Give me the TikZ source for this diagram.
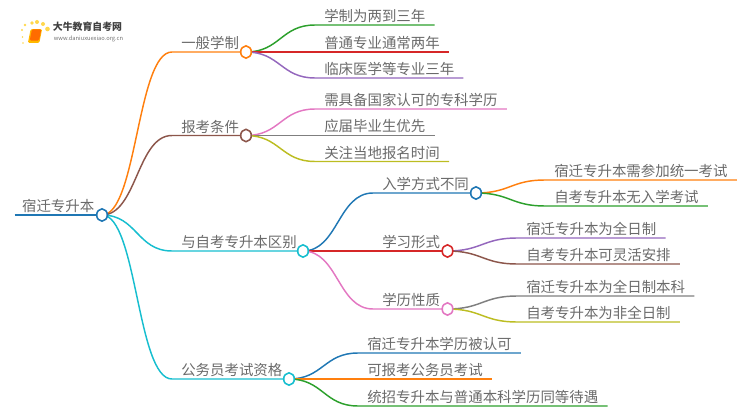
\documentclass[tikz,border=0pt]{standalone}
\usepackage{fontspec}
\setmainfont{Noto Sans CJK SC}
\usetikzlibrary{positioning, shapes.geometric, backgrounds}
\definecolor{tabblue}{HTML}{1F77B4}
\definecolor{taborange}{HTML}{FF7F0E}
\definecolor{tabgreen}{HTML}{2CA02C}
\definecolor{tabred}{HTML}{D62728}
\definecolor{tabpurple}{HTML}{9467BD}
\definecolor{tabbrown}{HTML}{8C564B}
\definecolor{tabpink}{HTML}{E377C2}
\definecolor{tabgray}{HTML}{7F7F7F}
\definecolor{tabolive}{HTML}{BCBD22}
\definecolor{tabcyan}{HTML}{17BECF}
\definecolor{txtgray}{HTML}{6A6A6A}

\begin{document}
\begin{tikzpicture}[
    x=0.75pt, y=-0.75pt,
    leaf/.style={anchor=south west, inner xsep=6.75pt, inner ysep=1.5pt, font=\fontsize{10.83pt}{12pt}\selectfont, text=txtgray},
    dot/.style={ellipse, draw, fill=white, line width=1.2pt, minimum width=8pt, minimum height=9.2pt, inner sep=0pt},
    link/.style={line width=1.1pt},
    logodot/.style={circle, fill=orange!45!yellow!70, inner sep=0pt},
]
\useasboundingbox (0,0) rectangle (750,410);

% Logo
\foreach \i/\xpos/\ypos/\size in {0/23/43/1.2pt, 1/22.5/37/1.4pt, 2/22/30/1.7pt, 3/25/25/2.2pt, 4/32/23/2.8pt, 5/37/22/3pt, 6/43/24/3pt, 7/47.5/29/3.5pt} {
    \node[logodot, minimum size=\size] (sun_\i) at (\xpos,\ypos) {};
}
\node[fill=orange!55!yellow, rounded corners=1pt, minimum width=8.6pt, minimum height=10.4pt, inner sep=0pt, xslant=0.2] (book) at (35,36) {};
\node[fill=orange!85!red, rounded corners=1pt, minimum width=7pt, minimum height=8.4pt, inner sep=0pt, xslant=0.2] (cover) at (35.5,35) {};
\node[font=\fontsize{7.4pt}{8pt}\selectfont\bfseries, text=black!75, inner sep=0pt] (logotitle) at (87.5,27) {大牛教育自考网};
\node[font=\fontsize{4.3pt}{5pt}\selectfont, text=black!55, inner sep=0pt] (logourl) at (88.5,38.5) {www.daniuxuexiao.org.cn};

% Root
\node[leaf, inner xsep=5.5pt] (root) at (14.5,215) {宿迁专升本};
\node[dot, draw=tabblue] (root_dot) at (102,215) {};
\begin{scope}[on background layer]
\draw[tabblue, line width=1.5pt] (root.south west) -- (root_dot.center);
\end{scope}

% First level
\foreach \name/\xpos/\ypos/\dotx/\col/\txt in {
    general/172/52/246/taborange/一般学制,
    apply/172/135.5/246/tabbrown/报考条件,
    differ/172/251/303/tabcyan/与自考专升本区别,
    civil/172/379/289/tabcyan/公务员考试资格} {
    \node[leaf] (\name) at (\xpos,\ypos) {\txt};
    \node[dot, draw=\col] (\name_dot) at (\dotx,\ypos) {};
    \begin{scope}[on background layer]
    \draw[link, \col] (root_dot.center) .. controls +(35,0) and +(-35,0) .. (\name.south west) -- (\name_dot.center);
    \end{scope}
}

% Second level under the differences
\foreach \name/\xpos/\ypos/\dotx/\col/\txt in {
    entry/373/193/476/tabblue/入学方式不同,
    form/373/251/447.5/tabred/学习形式,
    degree/373/309/447.5/tabpink/学历性质} {
    \node[leaf] (\name) at (\xpos,\ypos) {\txt};
    \node[dot, draw=\col] (\name_dot) at (\dotx,\ypos) {};
    \begin{scope}[on background layer]
    \draw[link, \col] (differ_dot.center) .. controls +(35,0) and +(-35,0) .. (\name.south west) -- (\name_dot.center);
    \end{scope}
}

% Leaves
\foreach \name/\src/\xpos/\ypos/\col/\txt in {
    g1/general_dot/315/25/tabgreen/学制为两到三年,
    g2/general_dot/315/52/tabred/普通专业通常两年,
    g3/general_dot/315/78/tabpurple/临床医学等专业三年,
    a1/apply_dot/315/109/tabpink/需具备国家认可的专科学历,
    a2/apply_dot/315/135.5/tabgray/应届毕业生优先,
    a3/apply_dot/315/161.5/tabolive/关注当地报名时间,
    e1/entry_dot/545/180/taborange/宿迁专升本需参加统一考试,
    e2/entry_dot/545/206/tabgreen/自考专升本无入学考试,
    f1/form_dot/517/238/tabpurple/宿迁专升本为全日制,
    f2/form_dot/517/264/tabbrown/自考专升本可灵活安排,
    d1/degree_dot/517/296/tabgray/宿迁专升本为全日制本科,
    d2/degree_dot/517/322/tabolive/自考专升本为非全日制,
    c1/civil_dot/358/353/tabblue/宿迁专升本学历被认可,
    c2/civil_dot/358/379/taborange/可报考公务员考试,
    c3/civil_dot/358/406/tabgreen/统招专升本与普通本科学历同等待遇} {
    \node[leaf] (\name) at (\xpos,\ypos) {\txt};
    \begin{scope}[on background layer]
    \draw[link, \col] (\src.center) .. controls +(34,0) and +(-34,0) .. (\name.south west) -- (\name.south east);
    \end{scope}
}

\end{tikzpicture}
\end{document}
